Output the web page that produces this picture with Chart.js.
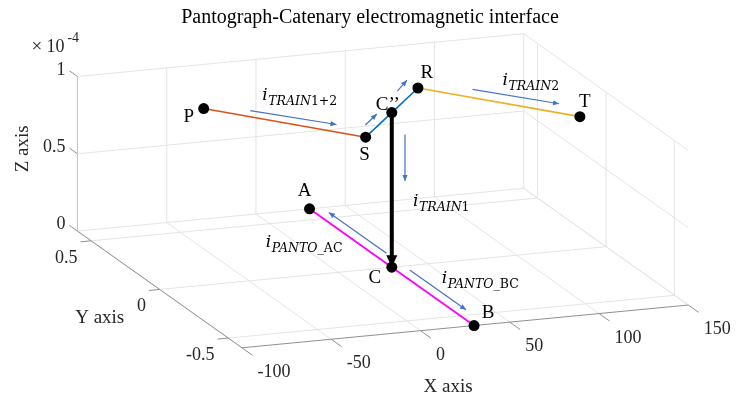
<!DOCTYPE html>
<html>
<head>
<meta charset="utf-8">
<script src="https://cdn.jsdelivr.net/npm/chart.js@4.4.1/dist/chart.umd.min.js"></script>
<style>
  html, body { margin: 0; padding: 0; background: #fff; }
  #wrap { width: 747px; height: 399px; position: relative; }
</style>
</head>
<body>
<div id="wrap"><canvas id="grafica"></canvas></div>
<script>
// limites y ticks de los ejes (unidades de datos)
const xLim = [-100, 150]
const yLim = [-0.6, 0.6]
const zLim = [0, 1e-4]
const xTicks = [-100, -50, 0, 50, 100, 150]
const yTicks = [-0.5, 0, 0.5]
const zTicks = [0, 0.5e-4, 1e-4]
const xTickLabels = ["-100", "-50", "0", "50", "100", "150"]
const yTickLabels = ["-0.5", "0", "0.5"]
const zTickLabels = ["0", "0.5", "1"]

// nodos del circuito
const nodeNames = ["P", "S", "C’’", "R", "T", "A", "C", "B"]
const nodeX = [-60, 0, 30, 60, 120, 30, 30, 30]
const nodeY = [0.2, -0.2, 0, 0.2, -0.2, 0.6, 0, -0.6]
const nodeZ = [1e-4, 1e-4, 1e-4, 1e-4, 1e-4, 0, 0, 0]

// tramos (indices de nodos)
const wirePS = [0, 1]
const wireSR = [1, 2, 3]
const wireRT = [3, 4]
const wirePanto = [5, 6, 7]
const wireDrop = [2, 6]

// flechas de corriente [x, y, z]
const arrowStart = [[-38.5, 0.14, 1e-4], [8.3, -0.09, 1e-4], [47.7, 0.19, 1e-4], [86, 0.14, 1e-4], [37.4, 0, 0.85e-4], [37, 0.13, 0], [37, -0.04, 0]]
const arrowEnd = [[-5.6, -0.06, 1e-4], [21.6, 0, 1e-4], [60, 0.28, 1e-4], [118.7, -0.065, 1e-4], [37.4, 0, 0.55e-4], [37, 0.55, 0], [37, -0.45, 0]]

// etiquetas de corriente: i_{sub}
const currentSubItalic = ["TRAIN", "TRAIN", "TRAIN", "PANTO", "PANTO"]
const currentSubUpright = ["1+2", "2", "1", "_AC", "_BC"]
const currentArrow = [0, 3, 4, 5, 6]

// ---- vista 3D (caja de ejes en pixeles) ----
const caja = { origen: [73, 232], vx: [453, -44], vy: [167, 120], vz: [0, -159] }

function project(p) {
  const fx = (p[0] - xLim[0]) / (xLim[1] - xLim[0])
  const fy = (yLim[1] - p[1]) / (yLim[1] - yLim[0])
  const fz = (p[2] - zLim[0]) / (zLim[1] - zLim[0])
  return {
    x: caja.origen[0] + fx * caja.vx[0] + fy * caja.vy[0] + fz * caja.vz[0],
    y: caja.origen[1] + fx * caja.vx[1] + fy * caja.vy[1] + fz * caja.vz[1],
  }
}
const nodo = (i) => [nodeX[i], nodeY[i], nodeZ[i]]

const [xMin, xMax] = xLim, [yMin, yMax] = yLim, [zMin, zMax] = zLim
const zTickLen = 0.058, xTickLen = 0.076, yTickLen = 6

const datasets = []
function seg(pts, color, width, order, extra) {
  datasets.push(Object.assign({
    data: pts.map(project), showLine: true, borderColor: color, backgroundColor: color,
    borderWidth: width, pointRadius: 0, order: order, clip: false,
  }, extra || {}))
}

// rejilla
const gris = "#e4e4e4"
xTicks.forEach((x) => {
  seg([[x, yMax, zMin], [x, yMax, zMax]], gris, 1, 20)
  seg([[x, yMax, zMin], [x, yMin, zMin]], gris, 1, 20)
})
zTicks.forEach((z) => {
  seg([[xMin, yMax, z], [xMax, yMax, z]], gris, 1, 20)
  seg([[xMax, yMax, z], [xMax, yMin, z]], gris, 1, 20)
})
yTicks.forEach((y) => {
  seg([[xMax, y, zMin], [xMax, y, zMax]], gris, 1, 20)
  seg([[xMin, y, zMin], [xMax, y, zMin]], gris, 1, 20)
})

// ejes y marcas
const ejeCol = "#8f8f8f"
seg([[xMin, yMin, zMin], [xMax, yMin, zMin]], ejeCol, 1, 15)
seg([[xMin, yMax, zMin], [xMin, yMin, zMin]], ejeCol, 1, 15)
seg([[xMin, yMax, zMin], [xMin, yMax, zMax]], "#c4c4c4", 1, 15)
xTicks.forEach((x) => seg([[x, yMin, zMin], [x, yMin - xTickLen, zMin]], ejeCol, 1, 15))
yTicks.forEach((y) => seg([[xMin, y, zMin], [xMin - yTickLen, y, zMin]], ejeCol, 1, 15))
zTicks.forEach((z) => seg([[xMin, yMax, z], [xMin, yMax + zTickLen, z]], ejeCol, 1, 15))

// tramos de la catenaria y pantografo
seg(wirePS.map(nodo), "#D95319", 1.6, 8)
seg(wireSR.map(nodo), "#0072BD", 1.6, 8)
seg(wireRT.map(nodo), "#EDB120", 1.6, 8)
seg(wirePanto.map(nodo), "#FF00FF", 1.8, 8)
seg(wireDrop.map(nodo), "#000000", 4, 6, { punta: { largo: 12, ancho: 5.5 } })

// flechas azules
arrowStart.forEach((a, i) => seg([a, arrowEnd[i]], "#4472C4", 1.2, 7, { punta: { largo: 6, ancho: 2.6 } }))

// nodos
datasets.push({
  data: nodeNames.map((n, i) => project(nodo(i))),
  showLine: false, pointRadius: 5.5, pointBackgroundColor: "#000", pointBorderColor: "#000",
  pointBorderWidth: 0, order: 1, clip: false,
})

const puntas = {
  id: "puntas",
  afterDatasetDraw(chart, args) {
    const ds = chart.data.datasets[args.index]
    if (!ds.punta) return
    const pts = args.meta.data
    const a = pts[pts.length - 2], b = pts[pts.length - 1]
    const ang = Math.atan2(b.y - a.y, b.x - a.x)
    const L = ds.punta.largo, W = ds.punta.ancho
    const c = Math.cos(ang), s = Math.sin(ang)
    const ctx = chart.ctx
    ctx.save()
    ctx.fillStyle = ds.borderColor
    ctx.beginPath()
    ctx.moveTo(b.x, b.y)
    ctx.lineTo(b.x - L * c - W * s, b.y - L * s + W * c)
    ctx.lineTo(b.x - L * c + W * s, b.y - L * s - W * c)
    ctx.closePath()
    ctx.fill()
    ctx.restore()
  },
}

const serif = '"Liberation Serif", "Times New Roman", serif'
const mathF = '"DejaVu Serif", serif'

function texto(ctx, s, x, y, font, align, color) {
  ctx.font = font
  ctx.textAlign = align || "center"
  ctx.textBaseline = "middle"
  ctx.fillStyle = color || "#000"
  ctx.fillText(s, x, y)
}

const textos = {
  id: "textos",
  afterDraw(chart) {
    const ctx = chart.ctx
    const sx = chart.scales.x, sy = chart.scales.y
    const px = (p) => { const q = project(p); return { x: sx.getPixelForValue(q.x), y: sy.getPixelForValue(q.y) } }
    ctx.save()
    const tickFont = "18px " + serif
    const tickCol = "#262626"

    // ticks
    zTicks.forEach((z, i) => {
      const e = px([xMin, yMax + zTickLen, z])
      texto(ctx, zTickLabels[i], e.x - 4, e.y - 1, tickFont, "right", tickCol)
    })
    xTicks.forEach((x, i) => {
      const e = px([x, yMin - xTickLen, zMin])
      texto(ctx, xTickLabels[i], e.x + 5, e.y + 17, tickFont, "left", tickCol)
    })
    yTicks.forEach((y, i) => {
      const e = px([xMin - yTickLen, y, zMin])
      texto(ctx, yTickLabels[i], e.x - 3, e.y + 16, tickFont, "right", tickCol)
    })
    // exponente
    const zt = px([xMin, yMax, zMax])
    texto(ctx, "×", zt.x - 46, zt.y - 29, "19px " + serif, "left", tickCol)
    texto(ctx, "10", zt.x - 31, zt.y - 29, "18px " + serif, "left", tickCol)
    texto(ctx, "-4", zt.x - 10, zt.y - 38, "14px " + serif, "left", tickCol)

    // nombres de ejes
    const axF = "19px " + serif
    const xl = px([(xMin + xMax) / 2, yMin, zMin])
    texto(ctx, "X axis", xl.x - 17, xl.y + 61, axF, "center", tickCol)
    const yl = px([xMin, (yMin + yMax) / 2, zMin])
    texto(ctx, "Y axis", yl.x - 60, yl.y + 29, axF, "center", tickCol)
    const zl = px([xMin, yMax, (zMin + zMax) / 2])
    ctx.save()
    ctx.translate(zl.x - 54, zl.y - 5)
    ctx.rotate(-Math.PI / 2)
    texto(ctx, "Z axis", 0, 0, axF, "center", tickCol)
    ctx.restore()

    // titulo
    texto(ctx, "Pantograph-Catenary electromagnetic interface", 370, 18, "20px " + serif, "center", "#000")

    // nombres de nodos
    const off = [[-15, 8], [-1, 18], [-4, -8], [9, -15], [5, -15], [-5, -18], [-17, 11], [14, -13]]
    nodeNames.forEach((n, i) => {
      const q = px(nodo(i))
      texto(ctx, n, q.x + off[i][0], q.y + off[i][1], "19px " + serif, "center", "#000")
    })

    // etiquetas de corriente
    const anc = [[12, -11, 0], [30, -4, 0], [8, 25, 1], [-63, 34, 1], [32, 13, 0]]
    currentSubItalic.forEach((sub, i) => {
      const k = currentArrow[i]
      const q = px(anc[i][2] ? arrowEnd[k] : arrowStart[k])
      let x = q.x + anc[i][0]
      const base = q.y + anc[i][1]
      ctx.textAlign = "left"
      ctx.textBaseline = "alphabetic"
      ctx.fillStyle = "#000"
      ctx.font = "italic 17px " + mathF
      ctx.fillText("i", x, base)
      x += ctx.measureText("i").width + 0.5
      ctx.font = "italic 12.5px " + mathF
      ctx.fillText(sub, x, base + 5)
      x += ctx.measureText(sub).width
      ctx.font = "12.5px " + mathF
      ctx.fillText(currentSubUpright[i], x, base + 5)
    })
    ctx.restore()
  },
}

new Chart(document.getElementById("grafica"), {
  type: "scatter",
  data: { datasets: datasets },
  options: {
    responsive: true,
    maintainAspectRatio: false,
    animation: false,
    events: [],
    layout: { padding: 0 },
    plugins: { legend: { display: false }, tooltip: { enabled: false }, title: { display: false } },
    scales: {
      x: { type: "linear", min: 0, max: 747, display: false },
      y: { type: "linear", min: 0, max: 399, reverse: true, display: false },
    },
  },
  plugins: [puntas, textos],
})
</script>
</body>
</html>
